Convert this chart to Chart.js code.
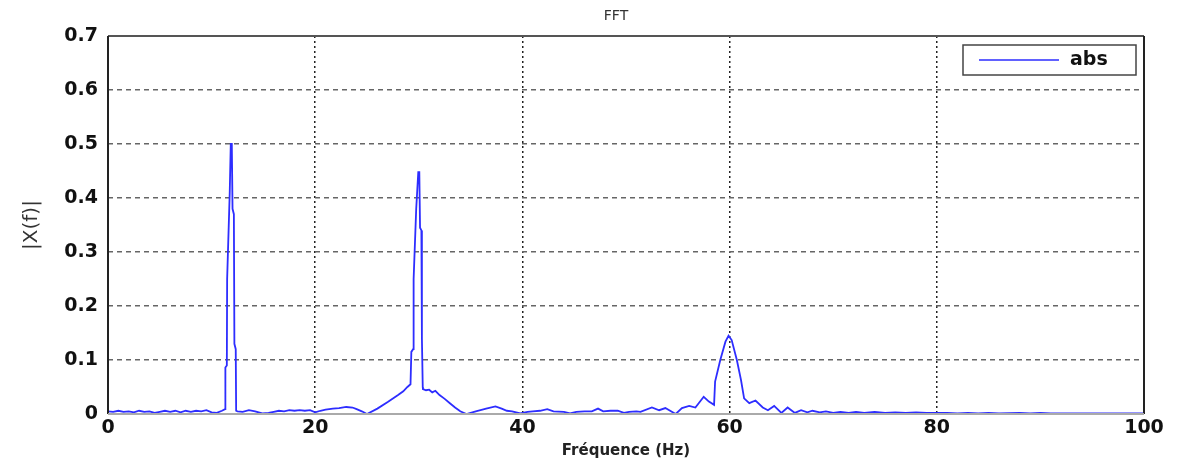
<!DOCTYPE html>
<html>
<head>
<meta charset="utf-8">
<script src="https://cdn.jsdelivr.net/npm/chart.js"></script>
<style>
  body { margin: 0; background: #fff; }
  #wrap { width: 1177px; height: 461px; }
</style>
</head>
<body>
<div id="wrap"><canvas id="myChart" width="1177" height="461"></canvas></div>
<script>
// spectrum, Hz / |X(f)|
const freqs = [
  0, 0.5, 1, 1.5, 2, 2.5, 3, 3.5, 4, 4.5, 5, 5.5, 6, 6.5, 7, 7.5, 8, 8.5, 9, 9.5, 10, 10.5, 11, 11.3,
  11.33, 11.47, 11.5, 11.75, 11.85, 11.95, 12.02, 12.15, 12.2, 12.33, 12.37,
  12.5, 13, 13.6, 14.2, 14.9, 15.5, 16, 16.5, 17, 17.5, 18, 18.5, 19, 19.5, 20,
  20.5, 21, 21.7, 22.3, 23, 23.6, 24, 24.5, 25,
  26, 27, 28, 28.5, 28.9, 29.2, 29.28, 29.45, 29.5, 29.75, 29.95, 30.05, 30.12, 30.25, 30.3, 30.38, 30.4,
  30.7, 31, 31.3, 31.6, 32, 32.5, 33, 33.5, 34, 34.6, 35.5, 36.5, 37.4, 38, 38.5, 39, 39.8,
  40.5, 41, 41.7, 42.4, 43, 44, 44.6, 45.2, 46, 46.7, 47.3, 47.8, 48.5, 49.2, 49.8, 50.3, 51, 51.4,
  52.5, 53.2, 53.8, 54.8, 55.4, 56.1, 56.7, 57.5, 58, 58.5, 58.6, 59.1, 59.6, 59.9, 60.2, 60.7, 61.1,
  61.4, 61.9, 62.5, 63.2, 63.7, 64.3, 65, 65.6, 66.3, 66.9,
  67.5, 68, 68.7, 69.3, 70, 70.7, 71.5, 72.2, 73, 74, 75, 76, 77, 78, 79, 80,
  81, 82, 83, 84, 85, 86, 88, 89, 90, 91, 93, 95, 100
];
const absValues = [
  0.005, 0.004, 0.006, 0.004, 0.005, 0.003, 0.006, 0.004, 0.005, 0.002, 0.004, 0.006, 0.004, 0.006, 0.003, 0.006, 0.004, 0.006, 0.005, 0.007, 0.003, 0.002, 0.006, 0.009,
  0.086, 0.09, 0.25, 0.41, 0.5, 0.5, 0.38, 0.37, 0.13, 0.12, 0.006,
  0.005, 0.004, 0.007, 0.005, 0.001, 0.002, 0.004, 0.006, 0.005, 0.007, 0.006, 0.007, 0.006, 0.007, 0.003,
  0.006, 0.008, 0.01, 0.011, 0.013, 0.012, 0.009, 0.005, 0.0,
  0.01, 0.022, 0.035, 0.042, 0.05, 0.055, 0.115, 0.12, 0.25, 0.38, 0.448, 0.448, 0.345, 0.34, 0.14, 0.05, 0.046,
  0.044, 0.045, 0.04, 0.043, 0.035, 0.028, 0.02, 0.012, 0.005, 0.0, 0.005, 0.01, 0.014, 0.01, 0.006, 0.005, 0.001,
  0.004, 0.005, 0.006, 0.009, 0.005, 0.004, 0.001, 0.004, 0.005, 0.005, 0.01, 0.005, 0.006, 0.006, 0.002, 0.004, 0.005, 0.004,
  0.012, 0.007, 0.011, 0.0, 0.011, 0.015, 0.012, 0.032, 0.023, 0.017, 0.06, 0.1, 0.134, 0.145, 0.137, 0.1, 0.063,
  0.029, 0.02, 0.025, 0.012, 0.007, 0.015, 0.002, 0.012, 0.002, 0.007,
  0.003, 0.006, 0.003, 0.005, 0.002, 0.004, 0.002, 0.004, 0.002, 0.004, 0.002, 0.003, 0.002, 0.003, 0.002, 0.002,
  0.002, 0.001, 0.002, 0.001, 0.002, 0.001, 0.002, 0.001, 0.002, 0.001, 0.001, 0.001, 0.001
];
const xTicks = [0, 20, 40, 60, 80, 100];
const yTicks = [0, 0.1, 0.2, 0.3, 0.4, 0.5, 0.6, 0.7];

const LINE_BLUE = 'rgb(45,45,255)';

let points = [];
for (let i = 0; i < freqs.length; i++) {
  points.push({x: freqs[i], y: absValues[i]});
}

// box, title and legend the matlab way
const matlabFrame = {
  id: 'matlabFrame',
  afterDraw(chart) {
    const ctx = chart.ctx;
    const a = chart.chartArea;
    ctx.save();
    ctx.lineWidth = 2;
    ctx.strokeStyle = '#555';
    ctx.beginPath(); ctx.moveTo(a.left, a.top); ctx.lineTo(a.right, a.top); ctx.stroke();
    ctx.strokeStyle = '#222';
    ctx.beginPath(); ctx.moveTo(a.left, a.top); ctx.lineTo(a.left, a.bottom); ctx.stroke();
    ctx.beginPath(); ctx.moveTo(a.right, a.top); ctx.lineTo(a.right, a.bottom); ctx.stroke();
    ctx.strokeStyle = '#aaa';
    ctx.beginPath(); ctx.moveTo(a.left, a.bottom); ctx.lineTo(a.right, a.bottom); ctx.stroke();

    // title
    ctx.fillStyle = '#333';
    ctx.font = '14px "DejaVu Sans"';
    ctx.textAlign = 'center';
    ctx.textBaseline = 'middle';
    ctx.fillText('FFT', 616, 16);

    // legend
    const ds = chart.data.datasets[0];
    ctx.fillStyle = '#fff';
    ctx.fillRect(963, 45, 173, 30);
    ctx.lineWidth = 1.5;
    ctx.strokeStyle = '#444';
    ctx.strokeRect(963, 45, 173, 30);
    ctx.strokeStyle = ds.borderColor;
    ctx.lineWidth = 1.5;
    ctx.beginPath(); ctx.moveTo(979, 60); ctx.lineTo(1059, 60); ctx.stroke();
    ctx.fillStyle = '#111';
    ctx.font = 'bold 19px "DejaVu Sans"';
    ctx.textAlign = 'left';
    ctx.fillText(ds.label, 1070, 60);
    ctx.restore();
  }
};

const data = {
  datasets: [{
    label: 'abs',
    data: points,
    borderColor: LINE_BLUE,
    borderWidth: 1.8,
    pointRadius: 0,
    tension: 0,
    fill: false
  }]
};

const config = {
  type: 'line',
  data: data,
  options: {
    responsive: false,
    animation: false,
    layout: { padding: { left: 0, top: 36, right: 33, bottom: 0 } },
    plugins: {
      legend: { display: false },
      title: { display: false },
      tooltip: { enabled: false }
    },
    scales: {
      x: {
        type: 'linear',
        min: 0,
        max: 100,
        afterBuildTicks: (scale) => { scale.ticks = xTicks.map(v => ({value: v})); },
        afterFit: (scale) => { scale.height = 47; },
        grid: {
          drawTicks: false,
          color: (c) => (c.tick && (c.tick.value === 0 || c.tick.value === 100)) ? 'rgba(0,0,0,0)' : '#222',
          lineWidth: 1.5
        },
        border: { display: false, dash: [2, 3] },
        ticks: {
          padding: 3,
          color: '#111',
          font: { family: 'DejaVu Sans', size: 19, weight: 'bold' }
        },
        title: {
          display: true,
          text: 'Fréquence (Hz)',
          color: '#222',
          padding: { top: 0, bottom: 1 },
          font: { family: 'DejaVu Sans', size: 15, weight: 'bold' }
        }
      },
      y: {
        min: 0,
        max: 0.7,
        afterBuildTicks: (scale) => { scale.ticks = yTicks.map(v => ({value: v})); },
        afterFit: (scale) => { scale.width = 108; },
        grid: {
          drawTicks: false,
          color: (c) => (c.tick && (c.tick.value === 0 || c.tick.value === 0.7)) ? 'rgba(0,0,0,0)' : '#666',
          lineWidth: 1.5
        },
        border: { display: false, dash: [5, 4] },
        ticks: {
          padding: 10,
          color: '#111',
          font: { family: 'DejaVu Sans', size: 19, weight: 'bold' },
          callback: (v) => String(Math.round(v * 10) / 10)
        },
        title: {
          display: true,
          text: '|X(f)|',
          color: '#333',
          padding: { top: 20, bottom: 0 },
          font: { family: 'DejaVu Sans', size: 20 }
        }
      }
    }
  },
  plugins: [matlabFrame]
};

const myChart = new Chart(document.getElementById('myChart'), config);
</script>
</body>
</html>
